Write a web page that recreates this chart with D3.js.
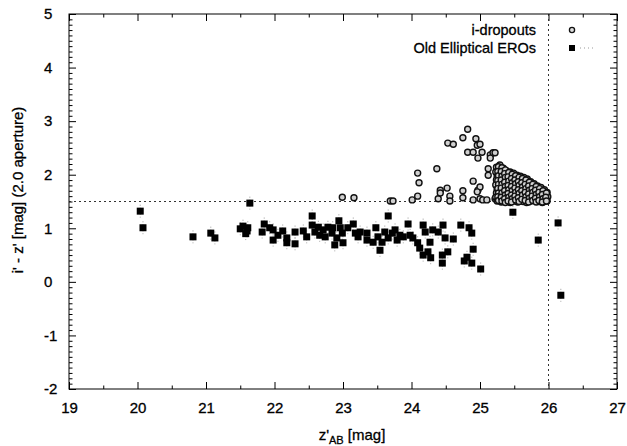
<!DOCTYPE html>
<html lang="en">
<head>
<meta charset="UTF-8">
<title>i-dropouts and old elliptical EROs</title>
<script src="https://d3js.org/d3.v7.min.js"></script>
<style>
  body { margin: 0; background: #fff; }
  svg { font-family: "Liberation Sans", Arial, sans-serif; }
  .axis path { display: none; }
  .axis line { stroke: #000; stroke-width: 1; }
  .axis text { font-size: 15px; fill: #000; stroke: #000; stroke-width: 0.3; }
  .lbl { stroke: #000; stroke-width: 0.3; }
</style>
</head>
<body>
<div id="chart"></div>
<script>
// axis ranges and ticks
const xDomain = [19, 27];
const yDomain = [-2, 5];
const xTicks = [19, 20, 21, 22, 23, 24, 25, 26, 27];
const yTicks = [-2, -1, 0, 1, 2, 3, 4, 5];
const colourCut = 1.5;   // i'-z' selection line
const magLimit = 26;     // z' limit
const eroErr = 0.12;

// old elliptical EROs  [z'AB, i'-z']
const eroPoints = [
  [20.04, 1.32], [20.08, 1.01], [20.81, 0.84], [21.07, 0.91], [21.13, 0.82],
  [21.50, 0.99], [21.54, 1.04], [21.60, 0.95], [21.58, 0.90], [21.64, 1.47],
  [21.61, 1.01], [21.82, 0.93], [21.85, 1.08], [21.93, 1.01], [21.98, 0.97],
  [21.98, 0.78], [22.05, 0.87], [22.12, 0.95], [22.18, 0.82], [22.18, 0.73],
  [22.30, 0.93], [22.30, 0.71], [22.42, 0.95], [22.47, 0.84], [22.55, 1.23],
  [22.55, 1.06], [22.59, 0.93], [22.64, 1.02], [22.66, 0.87], [22.71, 0.97],
  [22.74, 0.84], [22.78, 1.02], [22.84, 0.91], [22.85, 1.01], [22.88, 0.69],
  [22.91, 0.82], [22.94, 1.14], [22.96, 1.01], [22.99, 0.91], [23.00, 0.73],
  [23.07, 1.01], [23.15, 1.08], [23.18, 0.91], [23.22, 0.84], [23.25, 0.93],
  [23.35, 0.91], [23.35, 0.78], [23.44, 0.74], [23.48, 1.01], [23.51, 0.84],
  [23.54, 0.59], [23.57, 0.74], [23.61, 0.93], [23.66, 1.23], [23.66, 0.82],
  [23.72, 0.91], [23.76, 0.97], [23.79, 0.78], [23.83, 0.87], [23.88, 0.84],
  [23.95, 1.08], [23.98, 0.87], [24.02, 0.82], [24.09, 0.73], [24.12, 0.63],
  [24.17, 1.06], [24.17, 0.50], [24.20, 0.93], [24.24, 0.56], [24.27, 0.74],
  [24.28, 0.45], [24.31, 0.97], [24.39, 0.93], [24.45, 0.50], [24.45, 0.35],
  [24.46, 1.06], [24.49, 0.82], [24.53, 0.56], [24.61, 0.80], [24.72, 1.06],
  [24.77, 0.39], [24.81, 0.46], [24.84, 1.01], [24.88, 0.91], [24.90, 0.61],
  [24.88, 0.35], [25.01, 0.24], [25.48, 1.30], [25.85, 0.78], [26.14, 1.10],
  [26.18, -0.25]
];

// i-dropouts, scattered ones
const dropoutSparse = [
  [22.99, 1.58], [23.16, 1.57], [23.69, 1.51], [23.73, 1.51], [24.01, 1.53],
  [24.09, 1.60], [24.11, 1.85], [24.09, 2.03], [24.37, 2.11], [24.39, 1.55],
  [24.42, 1.71], [24.42, 1.66], [24.52, 1.75], [24.53, 2.59], [24.61, 2.57],
  [24.56, 1.60], [24.56, 1.51], [24.75, 2.69], [24.82, 2.85], [24.82, 2.42],
  [24.75, 1.70], [24.75, 1.57], [24.90, 1.88], [24.90, 2.42], [24.94, 2.67],
  [24.96, 2.55], [24.97, 2.31], [25.00, 2.57], [25.03, 2.42], [24.97, 1.71],
  [25.00, 1.77], [24.96, 1.68], [24.90, 1.53], [25.00, 1.55], [25.04, 1.53],
  [25.10, 1.53], [25.12, 2.11], [25.12, 1.99], [25.15, 2.37], [25.19, 2.41],
  [25.22, 2.41], [25.15, 2.31], [25.22, 1.55]
];

// i-dropouts, the crowded faint end
const dropoutDense = [
  [25.24, 2.14], [25.23, 2.05], [25.25, 1.97], [25.24, 1.90], [25.23, 1.81],
  [25.25, 1.73], [25.24, 1.66], [25.23, 1.58], [25.25, 1.51],
  [25.29, 2.18], [25.30, 2.10], [25.28, 2.01], [25.29, 1.93], [25.30, 1.86],
  [25.29, 1.78], [25.28, 1.70], [25.30, 1.62], [25.29, 1.55], [25.31, 1.49],
  [25.34, 2.12], [25.35, 2.04], [25.33, 1.96], [25.34, 1.89], [25.36, 1.83],
  [25.34, 1.74], [25.33, 1.67], [25.35, 1.60], [25.34, 1.52],
  [25.39, 2.07], [25.40, 2.00], [25.38, 1.92], [25.39, 1.85], [25.41, 1.79],
  [25.39, 1.71], [25.38, 1.64], [25.40, 1.57], [25.39, 1.50],
  [25.44, 2.05], [25.45, 1.98], [25.43, 1.90], [25.44, 1.82], [25.46, 1.76],
  [25.44, 1.69], [25.43, 1.61], [25.45, 1.54], [25.44, 1.48],
  [25.49, 2.03], [25.50, 1.95], [25.48, 1.87], [25.49, 1.80], [25.51, 1.73],
  [25.49, 1.65], [25.48, 1.58], [25.50, 1.51],
  [25.54, 1.99], [25.55, 1.92], [25.53, 1.85], [25.54, 1.77], [25.56, 1.70],
  [25.54, 1.63], [25.53, 1.55], [25.55, 1.49],
  [25.59, 1.97], [25.60, 1.89], [25.58, 1.82], [25.59, 1.74], [25.61, 1.67],
  [25.59, 1.60], [25.58, 1.52],
  [25.64, 1.95], [25.65, 1.87], [25.63, 1.80], [25.64, 1.72], [25.66, 1.65],
  [25.64, 1.57], [25.63, 1.50],
  [25.69, 1.92], [25.70, 1.84], [25.68, 1.77], [25.69, 1.69], [25.71, 1.62],
  [25.69, 1.55], [25.68, 1.48],
  [25.74, 1.87], [25.75, 1.80], [25.73, 1.73], [25.74, 1.66], [25.76, 1.58],
  [25.74, 1.51],
  [25.79, 1.83], [25.80, 1.76], [25.78, 1.68], [25.79, 1.61], [25.81, 1.53],
  [25.84, 1.79], [25.85, 1.72], [25.83, 1.65], [25.84, 1.57], [25.86, 1.50],
  [25.89, 1.76], [25.90, 1.68], [25.88, 1.61], [25.89, 1.54], [25.91, 1.48],
  [25.94, 1.72], [25.95, 1.64], [25.93, 1.57], [25.94, 1.50],
  [25.98, 1.67], [25.99, 1.59], [25.98, 1.51],
  // in between the rows above
  [25.27, 2.15], [25.26, 2.06], [25.27, 1.98], [25.26, 1.89], [25.27, 1.82],
  [25.26, 1.74], [25.27, 1.66], [25.26, 1.59], [25.27, 1.52],
  [25.32, 2.13], [25.31, 2.06], [25.32, 1.97], [25.31, 1.90], [25.32, 1.82],
  [25.31, 1.75], [25.32, 1.66], [25.31, 1.58], [25.32, 1.51],
  [25.37, 2.09], [25.36, 2.02], [25.37, 1.95], [25.36, 1.86], [25.37, 1.78],
  [25.36, 1.70], [25.37, 1.62], [25.36, 1.55], [25.37, 1.48],
  [25.42, 2.04], [25.41, 1.96], [25.42, 1.88], [25.41, 1.80], [25.42, 1.72],
  [25.41, 1.65], [25.42, 1.58], [25.41, 1.51],
  [25.47, 2.01], [25.46, 1.93], [25.47, 1.85], [25.46, 1.78], [25.47, 1.70],
  [25.46, 1.62], [25.47, 1.55], [25.46, 1.49],
  [25.52, 1.98], [25.51, 1.90], [25.52, 1.83], [25.51, 1.75], [25.52, 1.67],
  [25.51, 1.60], [25.52, 1.53],
  [25.57, 1.95], [25.56, 1.87], [25.57, 1.80], [25.56, 1.72], [25.57, 1.65],
  [25.56, 1.57], [25.57, 1.50],
  [25.62, 1.93], [25.61, 1.85], [25.62, 1.77], [25.61, 1.70], [25.62, 1.62],
  [25.61, 1.54],
  [25.67, 1.90], [25.66, 1.82], [25.67, 1.74], [25.66, 1.67], [25.67, 1.59],
  [25.66, 1.52],
  [25.72, 1.86], [25.71, 1.79], [25.72, 1.71], [25.71, 1.64], [25.72, 1.56],
  [25.71, 1.49],
  [25.77, 1.82], [25.76, 1.74], [25.77, 1.67], [25.76, 1.60], [25.77, 1.52],
  [25.82, 1.78], [25.81, 1.71], [25.82, 1.63], [25.81, 1.56], [25.82, 1.49],
  [25.87, 1.74], [25.86, 1.67], [25.87, 1.59], [25.86, 1.52],
  [25.92, 1.70], [25.91, 1.63], [25.92, 1.55], [25.91, 1.49],
  [25.97, 1.66], [25.96, 1.58], [25.97, 1.51]
];

const width = 627, height = 446;
const m = { l: 69, r: 617, t: 14, b: 389 };

const svg = d3.select("#chart").append("svg")
  .attr("width", width)
  .attr("height", height);

svg.append("rect").attr("width", width).attr("height", height).attr("fill", "#fff");

const x = d3.scaleLinear().domain(xDomain).range([m.l, m.r]);
const y = d3.scaleLinear().domain(yDomain).range([m.b, m.t]);

const xMinor = d3.range(19.5, 27, 1);
const yMinor = d3.range(-20, 51).map(d => d / 10).filter(d => Math.abs(d - Math.round(d)) > 0.01);

// major + minor ticks, all pointing in
svg.append("g").attr("class", "axis")
  .attr("transform", `translate(0,${m.b})`)
  .call(d3.axisBottom(x).tickValues(xTicks).tickSize(-7).tickPadding(13).tickFormat(d3.format("d")));
svg.append("g").attr("class", "axis")
  .attr("transform", `translate(0,${m.b})`)
  .call(d3.axisBottom(x).tickValues(xMinor).tickSize(-3.5).tickFormat(""));
svg.append("g").attr("class", "axis")
  .attr("transform", `translate(0,${m.t})`)
  .call(d3.axisTop(x).tickValues(xTicks).tickSize(-7).tickFormat(""));
svg.append("g").attr("class", "axis")
  .attr("transform", `translate(0,${m.t})`)
  .call(d3.axisTop(x).tickValues(xMinor).tickSize(-3.5).tickFormat(""));

const yAxis = svg.append("g").attr("class", "axis")
  .attr("transform", `translate(${m.l},0)`)
  .call(d3.axisLeft(y).tickValues(yTicks).tickSize(-7).tickFormat(d3.format("d")));
yAxis.selectAll("text")
  .attr("x", 44 - m.l)
  .attr("text-anchor", "start")
  .text(d => d < 0 ? "-" + Math.abs(d) : d);
svg.append("g").attr("class", "axis")
  .attr("transform", `translate(${m.l},0)`)
  .call(d3.axisLeft(y).tickValues(yMinor).tickSize(-3.5).tickFormat(""));
svg.append("g").attr("class", "axis")
  .attr("transform", `translate(${m.r},0)`)
  .call(d3.axisRight(y).tickValues(yTicks).tickSize(-7).tickFormat(""));
svg.append("g").attr("class", "axis")
  .attr("transform", `translate(${m.r},0)`)
  .call(d3.axisRight(y).tickValues(yMinor).tickSize(-3.5).tickFormat(""));

// selection limits
svg.append("line")
  .attr("x1", m.l).attr("x2", m.r)
  .attr("y1", y(colourCut)).attr("y2", y(colourCut))
  .attr("stroke", "#333").attr("stroke-width", 1).attr("stroke-dasharray", "2,3");
svg.append("line")
  .attr("x1", x(magLimit)).attr("x2", x(magLimit))
  .attr("y1", m.t).attr("y2", m.b)
  .attr("stroke", "#333").attr("stroke-width", 1).attr("stroke-dasharray", "2,3");

// i-dropouts
const allDrops = dropoutSparse.concat(dropoutDense);
svg.append("g").selectAll("circle")
  .data(allDrops)
  .enter().append("circle")
  .attr("cx", d => x(d[0]))
  .attr("cy", d => y(d[1]))
  .attr("r", 3)
  .attr("fill", "#d0d0d0")
  .attr("stroke", "#111")
  .attr("stroke-width", 1.4);

// EROs with faint error bars
svg.append("g").selectAll("line")
  .data(eroPoints)
  .enter().append("line")
  .attr("x1", d => x(d[0])).attr("x2", d => x(d[0]))
  .attr("y1", d => y(d[1] + eroErr)).attr("y2", d => y(d[1] - eroErr))
  .attr("stroke", "#999").attr("stroke-width", 1).attr("stroke-dasharray", "1,2");
svg.append("g").selectAll("rect")
  .data(eroPoints)
  .enter().append("rect")
  .attr("x", d => x(d[0]) - 3.5)
  .attr("y", d => y(d[1]) - 3.5)
  .attr("width", 7)
  .attr("height", 7)
  .attr("fill", "#000");

// frame
svg.append("rect")
  .attr("x", m.l).attr("y", m.t)
  .attr("width", m.r - m.l).attr("height", m.b - m.t)
  .attr("fill", "none").attr("stroke", "#000").attr("stroke-width", 1);

// legend
const legend = svg.append("g").attr("font-size", "14.5px");
legend.append("text").attr("class", "lbl").attr("x", 536).attr("y", 35).attr("text-anchor", "end").text("i-dropouts");
legend.append("text").attr("class", "lbl").attr("x", 536).attr("y", 53).attr("text-anchor", "end").text("Old Elliptical EROs");
legend.append("circle").attr("cx", 572).attr("cy", 30).attr("r", 2.6)
  .attr("fill", "#ddd").attr("stroke", "#111").attr("stroke-width", 1.3);
legend.append("rect").attr("x", 569).attr("y", 45).attr("width", 6).attr("height", 6).attr("fill", "#000");
legend.append("line").attr("x1", 580).attr("x2", 594).attr("y1", 48).attr("y2", 48)
  .attr("stroke", "#999").attr("stroke-dasharray", "1,3");

// axis titles
svg.append("text")
  .attr("class", "lbl")
  .attr("transform", "translate(23,190) rotate(-90)")
  .attr("text-anchor", "middle")
  .attr("font-size", "15px")
  .text("i' - z' [mag] (2.0 aperture)");

const xt = svg.append("text")
  .attr("class", "lbl")
  .attr("x", 352).attr("y", 440)
  .attr("text-anchor", "middle")
  .attr("font-size", "15px");
xt.append("tspan").text("z'");
xt.append("tspan").attr("dy", 4).attr("font-size", "11px").text("AB");
xt.append("tspan").attr("dy", -4).text(" [mag]");
</script>
</body>
</html>
